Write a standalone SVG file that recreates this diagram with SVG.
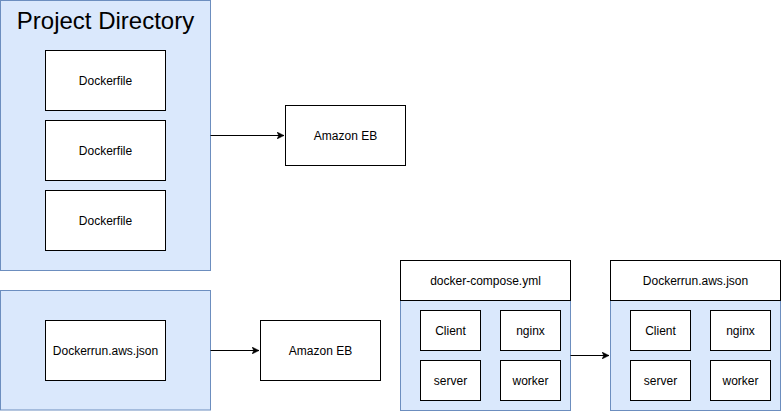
<svg xmlns="http://www.w3.org/2000/svg" width="781" height="411" viewBox="0 0 781 411">
<style>
.grp{fill:#dae8fc;stroke:#6c8ebf;stroke-width:1}
.box{fill:#ffffff;stroke:#000000;stroke-width:1}
.t{font-family:"Liberation Sans",Arial,Helvetica,sans-serif;font-size:12px;fill:#000000;text-anchor:middle}
.title{font-family:"Liberation Sans",Arial,Helvetica,sans-serif;font-size:24px;fill:#000000;text-anchor:middle}
.edge{fill:none;stroke:#000000;stroke-width:1}
</style>
<defs>
<marker id="arrow" viewBox="0 0 7 7" refX="7" refY="3.5" markerWidth="7" markerHeight="7" markerUnits="userSpaceOnUse" orient="auto">
<path d="M0,0 L7,3.5 L0,7 L1.75,3.5 Z" fill="#000000" stroke="#000000" stroke-width="0.5"/>
</marker>
</defs>
<rect width="781" height="411" fill="#ffffff"/>
<g id="project-directory">
<rect class="grp" x="0.5" y="0.5" width="210" height="270"/>
<text class="title" x="105.5" y="29">Project Directory</text>
</g>
<g id="dockerfile-1">
<rect class="box" x="45.5" y="50.5" width="120" height="60"/>
<text class="t" x="105.5" y="85">Dockerfile</text>
</g>
<g id="dockerfile-2">
<rect class="box" x="45.5" y="120.5" width="120" height="60"/>
<text class="t" x="105.5" y="155">Dockerfile</text>
</g>
<g id="dockerfile-3">
<rect class="box" x="45.5" y="190.5" width="120" height="60"/>
<text class="t" x="105.5" y="225">Dockerfile</text>
</g>
<g id="amazon-eb-1">
<rect class="box" x="285.5" y="105.5" width="120" height="60"/>
<text class="t" x="345.5" y="140">Amazon EB</text>
</g>
<g id="bottom-group">
<rect class="grp" x="0.5" y="290.5" width="210" height="119.5"/>
</g>
<g id="dockerrun-1">
<rect class="box" x="45.5" y="320.5" width="120" height="60"/>
<text class="t" x="105.5" y="355">Dockerrun.aws.json</text>
</g>
<g id="amazon-eb-2">
<rect class="box" x="260.5" y="320.5" width="120" height="60"/>
<text class="t" x="320.5" y="355">Amazon EB</text>
</g>
<g id="docker-compose">
<rect class="grp" x="400.5" y="300.5" width="170" height="110"/>
<rect class="box" x="400.5" y="260.5" width="170" height="40"/>
<text class="t" x="485.5" y="285">docker-compose.yml</text>
</g>
<g id="dc-client">
<rect class="box" x="420.5" y="310.5" width="60" height="40"/>
<text class="t" x="450.5" y="335">Client</text>
</g>
<g id="dc-nginx">
<rect class="box" x="500.5" y="310.5" width="60" height="40"/>
<text class="t" x="530.5" y="335">nginx</text>
</g>
<g id="dc-server">
<rect class="box" x="420.5" y="360.5" width="60" height="40"/>
<text class="t" x="450.5" y="385">server</text>
</g>
<g id="dc-worker">
<rect class="box" x="500.5" y="360.5" width="60" height="40"/>
<text class="t" x="530.5" y="385">worker</text>
</g>
<g id="dockerrun-2">
<rect class="grp" x="610.5" y="300.5" width="170" height="110"/>
<rect class="box" x="610.5" y="260.5" width="170" height="40"/>
<text class="t" x="695.5" y="285">Dockerrun.aws.json</text>
</g>
<g id="dr-client">
<rect class="box" x="630.5" y="310.5" width="60" height="40"/>
<text class="t" x="660.5" y="335">Client</text>
</g>
<g id="dr-nginx">
<rect class="box" x="710.5" y="310.5" width="60" height="40"/>
<text class="t" x="740.5" y="335">nginx</text>
</g>
<g id="dr-server">
<rect class="box" x="630.5" y="360.5" width="60" height="40"/>
<text class="t" x="660.5" y="385">server</text>
</g>
<g id="dr-worker">
<rect class="box" x="710.5" y="360.5" width="60" height="40"/>
<text class="t" x="740.5" y="385">worker</text>
</g>
<g id="connectors">
<path class="edge" d="M210.5 135.5 L284 135.5" marker-end="url(#arrow)"/>
<path class="edge" d="M210.5 350.5 L259 350.5" marker-end="url(#arrow)"/>
<path class="edge" d="M570.5 355.5 L609 355.5" marker-end="url(#arrow)"/>
</g>
</svg>
